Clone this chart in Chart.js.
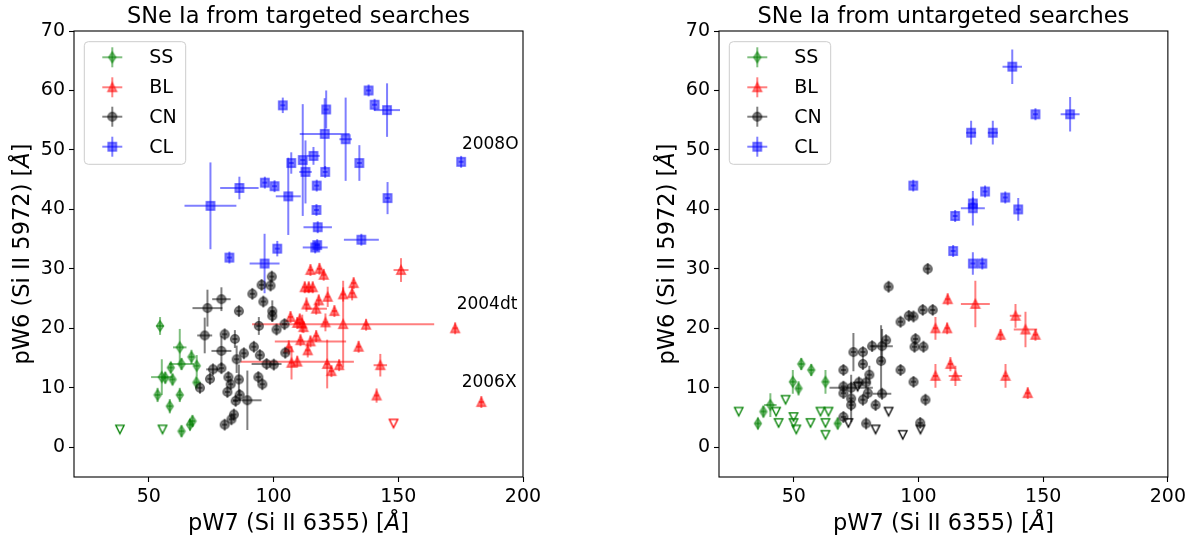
<!DOCTYPE html>
<html>
<head>
<meta charset="utf-8">
<script src="https://cdn.jsdelivr.net/npm/chart.js@4.4.0/dist/chart.umd.min.js"></script>
<style>
  body { margin: 0; background: #fff; }
  .panel { position: absolute; top: 0; width: 595px; height: 538px; }
</style>
</head>
<body>
<div class="panel" style="left:0"><canvas id="left" width="595" height="538"></canvas></div>
<div class="panel" style="left:595px"><canvas id="right" width="595" height="538"></canvas></div>
<script>
// tick labels
const xTicks = [50, 100, 150, 200];
const yTicks = [0, 10, 20, 30, 40, 50, 60, 70];

const classNames = ['SS', 'BL', 'CN', 'CL'];
const classColors = ['0,128,0', '255,0,0', '0,0,0', '0,0,255'];
const classShapes = ['d', '^', 'o', 's'];

// [pW7, pW6, err pW7, err pW6] -- targeted searches
const targetedSS = [
  [54.5,20.4,1.5,1.5],[62.4,16.8,2.7,3.1],[67.1,15.2,1,1.2],[63.1,14.0,5,1],[69.2,13.7,1,1.8],
  [58.8,13.4,1,1],[55.2,11.8,4.3,3],[56.6,11.7,1,1],[59.5,11.4,1,1],[69.1,10.9,1,1],
  [53.5,8.8,1,1.2],[62.4,8.8,1,1.2],[58.4,6.9,1,1.2],[63.1,2.7,1,1],[66.5,3.8,1,1],[67.5,4.4,1,1]
];
const targetedBL = [
  [151.1,29.8,3,2],[114.8,29.8,1,1],[118.4,30.0,1,1],[120.1,29.0,1,1],[132.1,27.6,1,1],
  [131.5,25.9,1,1.2],[127.9,25.7,1,1.2],[112.5,26.9,1,1],[114.1,26.9,1,1],[115.7,26.9,1,1],
  [121.7,25.3,1,1.7],[118.1,24.7,1,1],[113.2,24.0,1,1.2],[117.1,23.3,4.3,1],[124.4,22.9,1,1],
  [106.8,21.9,1,1],[110.5,21.5,1,1],[111.5,20.8,1,1.5],[112.0,20.2,1,1],[109.5,20.9,1,1],
  [120.8,21.0,1,1.5],[127.9,20.7,36.5,7.3],[137.1,20.6,1,1],[110.8,18.0,1,1],[114.8,17.8,14.3,1],
  [117.1,18.7,1,1],[113.7,16.3,1,1.2],[106.1,16.8,1,1.2],[134.1,16.9,1,1],[107.2,14.2,1,2.8],
  [109.5,14.4,22.7,1],[121.5,14.0,1,4.1],[123.2,12.8,1,1],[126.3,13.8,1,1],[142.8,13.8,2.7,1.9],
  [141.3,8.7,1,1.2],[172.8,20.0,1,1],[183.3,7.6,1,1]
];
const targetedCN = [
  [99.3,28.7,1,1],[95.2,27.3,1,1],[98.8,27.2,1,1],[91.5,25.8,1,1],[95.9,24.5,1,1],
  [79.1,24.9,3.7,2],[73.5,23.4,6,3.1],[86.1,22.9,1,1],[99.5,22.9,1,1.8],[99.5,22.1,1,1],
  [94.1,20.4,1,1.5],[101.2,19.8,1,1],[104.4,20.7,1,1],[72.4,18.8,3,3],[80.4,19.0,1,1],
  [84.5,18.2,1,1.5],[79.1,16.2,4,2.5],[88.1,15.8,1,1],[85.2,14.8,1,2.3],[92.1,16.9,1,1],
  [94.5,15.5,1,1],[97.2,14.0,6,1],[100.1,13.9,1,1],[104.7,15.9,1,1],[75.7,13.1,2.7,1],
  [79.1,13.3,1,1],[74.5,11.5,1,1],[70.5,10.0,1,1],[81.9,11.8,1,1],[82.8,10.6,1,1],
  [81.5,9.3,1,1],[86.1,11.4,1,2.5],[93.9,11.8,1,1],[95.5,10.6,1,1],[86.4,8.8,1,1],
  [89.5,7.9,5.7,5],[84.8,7.8,1,1],[84.1,5.5,1,1],[83.1,4.7,1,1],[80.4,3.8,1,1]
];
const targetedCL = [
  [103.7,57.5,1,1.3],[138.1,60.0,1,1],[140.5,57.6,1,1],[145.5,56.7,5.2,4.5],[121.1,56.8,1,3.2],
  [120.5,52.7,10,6],[128.9,51.8,2.5,7],[175.2,48.0,1,1],[134.4,47.8,1,3],[107.1,47.8,1,1.8],
  [111.7,48.3,1,9.4],[116.0,49.0,2.5,1.5],[112.8,46.3,2.5,5.3],[120.7,46.3,1,1],[105.9,42.2,5,6.5],
  [96.5,44.5,1,1],[100.4,43.9,1,1],[86.3,43.6,7.7,1.9],[117.3,44.0,1,1],[74.7,40.6,10.4,7.3],
  [117.2,39.9,1,1],[145.7,41.9,1,2.7],[117.7,37.0,5.7,1],[135.2,34.9,7,1],[116.7,33.6,5,1],
  [117.5,34.0,1,1],[101.5,33.4,1,1.3],[82.3,31.9,1,1],[96.4,30.9,6,5]
];
// upper limits (open triangles)
const targetedSSLim = [[38.4,3.0],[55.5,3.0]];
const targetedBLLim = [[148.1,4.0]];

// untargeted searches
const untargetedSS = [
  [53.0,14.0,1,1],[57.0,13.0,1,1],[49.6,11.0,1,2],[51.9,9.9,1,1.2],[62.7,11.0,1,2],
  [40.6,7.1,2.5,2],[37.8,6.0,1,1],[35.6,4.0,1,1],[67.6,4.0,1,1]
];
const untargetedBL = [
  [111.7,24.9,1,1],[122.8,24.1,5.8,3.9],[138.9,22.1,2.3,2],[106.8,20.0,1,1.9],[111.5,20.0,1,1],
  [142.9,19.8,4.7,3],[132.9,18.9,1,1],[146.9,18.9,1,1],[112.8,14.0,1,1.2],[106.8,12.0,1,2],
  [114.8,12.0,2.7,1.7],[134.9,12.0,1,2],[143.8,9.1,1,1]
];
const untargetedCN = [
  [103.7,30.0,1,1],[88.0,27.0,1,1],[101.7,23.1,1,1],[105.7,23.1,1,1],[96.1,22.1,1,1],
  [98.0,22.0,1,1],[92.8,21.1,1,1],[87.0,18.0,1,1],[98.8,18.2,1,1],[98.4,16.9,1,1],
  [102.0,16.9,1,1],[81.4,17.0,1,1],[85.4,17.0,4.3,2.9],[73.9,16.0,1,3.2],[77.7,16.0,1,1],
  [85.0,14.5,1,6],[77.7,14.0,1,1],[69.9,13.0,1,1],[92.8,13.0,1,1],[80.3,12.2,1,1.5],
  [76.1,10.9,1,1],[79.0,10.9,1,1],[73.0,10.0,8.7,1],[69.9,10.2,1,1],[98.0,11.0,1,1],
  [69.9,9.1,1,1],[73.0,8.2,1,4],[77.7,8.0,1,1],[79.7,9.1,1,1],[85.4,9.0,3.7,1],
  [82.8,7.1,1,1],[73.0,7.1,1,1],[102.8,8.0,1,1],[69.9,5.1,1,1],[79.0,4.0,1,1],[100.7,4.1,1,1]
];
const untargetedCL = [
  [137.6,64.0,3.9,2.9],[146.9,56.0,1,1],[160.8,56.0,3.8,2.9],[121.1,52.9,2,2],[129.8,52.9,2,2],
  [97.9,44.0,1,1],[126.7,43.0,1,1],[134.8,42.0,1,1],[121.8,41.0,1,1],[121.8,40.2,4.8,2.9],
  [140.0,40.0,1,1.9],[114.7,38.9,1,1],[113.9,33.0,1,1],[121.8,30.9,1,1.9],[125.6,30.9,1,1]
];
const untargetedSSLim = [
  [27.9,6.0],[46.7,8.0],[42.9,6.0],[43.9,4.1],[49.9,5.1],[49.9,4.1],[51.0,3.0],
  [56.7,4.1],[60.7,6.0],[63.9,6.0],[62.7,4.1],[62.7,2.1]
];
const untargetedCNLim = [[75.6,10.2],[71.9,4.1],[82.8,3.0],[88.0,6.0],[93.7,2.1],[100.8,3.0]];

// labelled objects in the targeted panel
const noteText = ['2008O', '2004dt', '2006X'];
const noteX = [175.5, 173.4, 175.4];
const noteY = [50.9, 24.0, 10.9];

const FONT = '"DejaVu Sans"';

// matplotlib-like marker glyphs
function marker(shape, rgb, open) {
  const c = document.createElement('canvas');
  c.width = 16; c.height = 16;
  const g = c.getContext('2d');
  g.translate(8, 8);
  g.beginPath();
  const s = 4.2;
  if (shape === 's') g.rect(-s, -s, 2 * s, 2 * s);
  else if (shape === 'o') g.arc(0, 0, s + 0.2, 0, Math.PI * 2);
  else if (shape === '^') { g.moveTo(0, -s - 0.5); g.lineTo(s + 0.3, s); g.lineTo(-s - 0.3, s); g.closePath(); }
  else if (shape === 'v') { g.moveTo(0, s); g.lineTo(s, -s); g.lineTo(-s, -s); g.closePath(); }
  else if (shape === 'd') { g.moveTo(0, -5.4); g.lineTo(3.6, 0); g.lineTo(0, 5.4); g.lineTo(-3.6, 0); g.closePath(); }
  if (open) {
    g.lineWidth = 1.3; g.strokeStyle = 'rgb(' + rgb + ')'; g.stroke();
  } else {
    g.fillStyle = 'rgba(' + rgb + ',0.5)'; g.fill();
    g.lineWidth = 1.4; g.strokeStyle = 'rgba(' + rgb + ',0.5)'; g.stroke();
  }
  return c;
}

function series(rows, cls) {
  return {
    label: classNames[cls],
    data: rows.map(r => ({x: r[0], y: r[1], xe: r[2], ye: r[3]})),
    pointStyle: marker(classShapes[cls], classColors[cls]),
    errColor: 'rgba(' + classColors[cls] + ',0.5)',
    pointRadius: 5, pointHoverRadius: 5, showLine: false
  };
}
function limits(rows, cls) {
  return {
    label: classNames[cls] + ' limit',
    data: rows.map(r => ({x: r[0], y: r[1]})),
    pointStyle: marker('v', classColors[cls], true),
    pointRadius: 5, pointHoverRadius: 5, showLine: false
  };
}

// error bars drawn under all markers, as in matplotlib
const errorBars = {
  id: 'errorBars',
  beforeDatasetsDraw(chart) {
    const {ctx, chartArea: a, scales: {x, y}} = chart;
    ctx.save();
    ctx.beginPath(); ctx.rect(a.left, a.top, a.right - a.left, a.bottom - a.top); ctx.clip();
    ctx.lineWidth = 2;
    chart.data.datasets.slice().reverse().forEach(ds => {
      if (!ds.errColor) return;
      ctx.strokeStyle = ds.errColor;
      ds.data.forEach(p => {
        const px = x.getPixelForValue(p.x), py = y.getPixelForValue(p.y);
        ctx.beginPath();
        ctx.moveTo(x.getPixelForValue(p.x - p.xe), py);
        ctx.lineTo(x.getPixelForValue(p.x + p.xe), py);
        ctx.stroke();
        ctx.beginPath();
        ctx.moveTo(px, y.getPixelForValue(p.y - p.ye));
        ctx.lineTo(px, y.getPixelForValue(p.y + p.ye));
        ctx.stroke();
      });
    });
    ctx.restore();
  }
};

// frame, titles, legend and notes
const decor = {
  id: 'decor',
  afterDraw(chart, args, opts) {
    const {ctx, chartArea: a, scales: {x, y}} = chart;
    ctx.save();
    ctx.strokeStyle = '#000'; ctx.lineWidth = 1.1;
    ctx.strokeRect(a.left, a.top, a.right - a.left, a.bottom - a.top);

    const cx = (a.left + a.right) / 2, cy = (a.top + a.bottom) / 2;
    ctx.fillStyle = '#000';
    ctx.font = '22.5px ' + FONT;
    ctx.textAlign = 'center'; ctx.textBaseline = 'alphabetic';
    ctx.fillText(opts.title, cx, 23);

    // axis labels with italic Angstrom
    function mixed(parts, x0, y0) {
      let w = 0;
      parts.forEach(p => { ctx.font = (p[1] ? 'italic ' : '') + '22.5px ' + FONT; w += ctx.measureText(p[0]).width; });
      let px = x0 - w / 2;
      ctx.textAlign = 'left';
      parts.forEach(p => {
        ctx.font = (p[1] ? 'italic ' : '') + '22.5px ' + FONT;
        ctx.fillText(p[0], px, y0);
        px += ctx.measureText(p[0]).width;
      });
    }
    mixed([['pW7 (Si II 6355) [', false], ['Å', true], [']', false]], cx, 530);
    ctx.save();
    ctx.translate(a.left - 45.5, cy);
    ctx.rotate(-Math.PI / 2);
    mixed([['pW6 (Si II 5972) [', false], ['Å', true], [']', false]], 0, 0);
    ctx.restore();

    // legend
    const bx = a.left + 10.3, by = a.top + 10.7, bw = 101.4, bh = 122.6, r = 4;
    ctx.beginPath();
    ctx.moveTo(bx + r, by); ctx.lineTo(bx + bw - r, by); ctx.arcTo(bx + bw, by, bx + bw, by + r, r);
    ctx.lineTo(bx + bw, by + bh - r); ctx.arcTo(bx + bw, by + bh, bx + bw - r, by + bh, r);
    ctx.lineTo(bx + r, by + bh); ctx.arcTo(bx, by + bh, bx, by + bh - r, r);
    ctx.lineTo(bx, by + r); ctx.arcTo(bx, by, bx + r, by, r); ctx.closePath();
    ctx.fillStyle = 'rgba(255,255,255,0.8)'; ctx.fill();
    ctx.strokeStyle = '#cccccc'; ctx.lineWidth = 1; ctx.stroke();
    const rowsY = [26.3, 56.3, 85.7, 115.7];
    classNames.forEach((name, i) => {
      const mx = a.left + 38.3, my = a.top + rowsY[i];
      ctx.strokeStyle = 'rgba(' + classColors[i] + ',0.5)'; ctx.lineWidth = 2;
      ctx.beginPath(); ctx.moveTo(mx - 10, my); ctx.lineTo(mx + 10, my); ctx.stroke();
      ctx.beginPath(); ctx.moveTo(mx, my - 10); ctx.lineTo(mx, my + 10); ctx.stroke();
      ctx.drawImage(marker(classShapes[i], classColors[i]), mx - 8, my - 8);
      ctx.fillStyle = '#000';
      ctx.font = '19px ' + FONT; ctx.textAlign = 'left'; ctx.textBaseline = 'middle';
      ctx.fillText(name, a.left + 75.3, my + 1);
    });

    if (opts.notes) {
      ctx.font = '17px ' + FONT; ctx.textAlign = 'left'; ctx.textBaseline = 'middle';
      noteText.forEach((t, i) => ctx.fillText(t, x.getPixelForValue(noteX[i]), y.getPixelForValue(noteY[i])));
    }
    ctx.restore();
  }
};

function axis(min, max, ticks, fit) {
  return {
    type: 'linear', min: min, max: max,
    afterBuildTicks: s => { s.ticks = ticks.map(v => ({value: v})); },
    afterFit: fit,
    grid: {drawOnChartArea: false, color: '#000', tickLength: 5, tickWidth: 1.1},
    border: {display: false},
    ticks: {color: '#000', font: {family: 'DejaVu Sans', size: 19}, padding: 4, maxRotation: 0, autoSkip: false}
  };
}

function makeChart(id, title, datasets, yWidth, padRight, notes) {
  new Chart(document.getElementById(id), {
    type: 'scatter',
    data: {datasets: datasets},
    options: {
      responsive: false, animation: false, events: [],
      layout: {padding: {top: 31, right: padRight, left: 0, bottom: 0}},
      plugins: {legend: {display: false}, tooltip: {enabled: false}, decor: {title: title, notes: notes}},
      scales: {
        x: axis(20, 200, xTicks, s => { s.height = 61; }),
        y: axis(-5, 70, yTicks, s => { s.width = yWidth; })
      }
    },
    plugins: [errorBars, decor]
  });
}

// dataset 0 is drawn on top
makeChart('left', 'SNe Ia from targeted searches', [
  limits(targetedSSLim, 0), limits(targetedBLLim, 1),
  series(targetedCL, 3), series(targetedCN, 2), series(targetedBL, 1), series(targetedSS, 0)
], 74, 72, true);

makeChart('right', 'SNe Ia from untargeted searches', [
  limits(untargetedSSLim, 0), limits(untargetedCNLim, 2),
  series(untargetedCL, 3), series(untargetedCN, 2), series(untargetedBL, 1), series(untargetedSS, 0)
], 124, 22, false);
</script>
</body>
</html>
